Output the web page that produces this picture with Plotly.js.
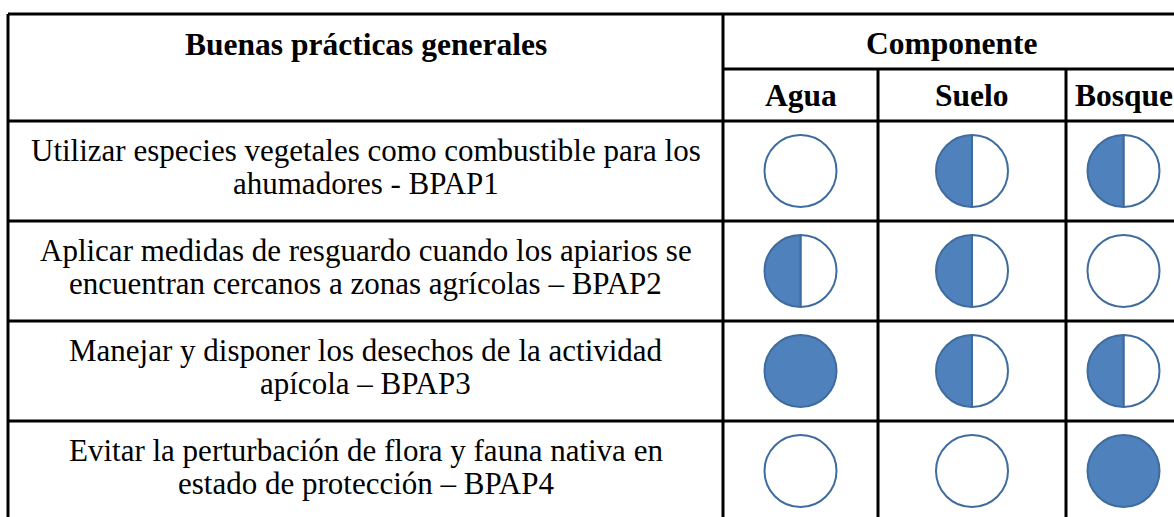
<!DOCTYPE html>
<html>
<head>
<meta charset="utf-8">
<script src="https://cdn.plot.ly/plotly-3.0.1.min.js"></script>
<style>
  html, body { margin: 0; padding: 0; background: #ffffff; }
  #chart { width: 1174px; height: 517px; }
</style>
</head>
<body>
<div id="chart"></div>
<script>
// ---- data ----
const headerLeft = 'Buenas prácticas generales';
const headerGroup = 'Componente';
const components = ['Agua', 'Suelo', 'Bosque'];
const practices = [
  'Utilizar especies vegetales como combustible para los<br>ahumadores - BPAP1',
  'Aplicar medidas de resguardo cuando los apiarios se<br>encuentran cercanos a zonas agrícolas – BPAP2',
  'Manejar y disponer los desechos de la actividad<br>apícola – BPAP3',
  'Evitar la perturbación de flora y fauna nativa en<br>estado de protección – BPAP4'
];
// fraction of each Harvey ball that is filled (0 = empty, 0.5 = half, 1 = full)
const agua   = [0,   0.5, 1,   0];
const suelo  = [0.5, 0.5, 0.5, 0];
const bosque = [0.5, 0,   0.5, 1];

// ---- layout geometry ----
const W = 1174, H = 517;
const colX = [8, 723, 878, 1066, 1181];      // column boundaries
const yTop = 14, yGroup = 69, yHead = 121, rowH = 100;
const R = 36;                                 // ball radius
const FILL = '#4F81BD', EDGE = '#3F6C9E';
const LINE = '#000000', LW = 3;
const FONT = 'Liberation Serif, Times New Roman, serif';
const BODY_SIZE = 31, HEAD_SIZE = 31.5, LINE_GAP = 33;

const series = [agua, suelo, bosque];
const traces = [];
const annotations = [];
const shapes = [];

function line(x0, y0, x1, y1) {
  shapes.push({type: 'line', xref: 'x', yref: 'y', x0, y0, x1, y1,
               line: {color: LINE, width: LW}});
}

const yBottom = yHead + rowH * practices.length;

// outer / grid lines
line(colX[0], yTop, colX[4], yTop);
line(colX[1], yGroup, colX[4], yGroup);
line(colX[0], yHead, colX[4], yHead);
for (let i = 1; i <= practices.length; i++) {
  const y = yHead + rowH * i;
  line(colX[0], y, colX[4], y);
}
line(colX[0], yTop, colX[0], yBottom);
line(colX[1], yTop, colX[1], yBottom);
line(colX[2], yGroup, colX[2], yBottom);
line(colX[3], yGroup, colX[3], yBottom);
line(colX[4], yTop, colX[4], yBottom);

// header texts
annotations.push({x: (colX[0] + colX[1]) / 2, y: (yTop + yHead) / 2 - 23, xref: 'x', yref: 'y',
  text: '<b>' + headerLeft + '</b>', showarrow: false,
  font: {family: FONT, size: HEAD_SIZE, color: '#000'}});
annotations.push({x: (colX[1] + colX[4]) / 2, y: (yTop + yGroup) / 2 + 2, xref: 'x', yref: 'y',
  text: '<b>' + headerGroup + '</b>', showarrow: false,
  font: {family: FONT, size: HEAD_SIZE, color: '#000'}});
components.forEach((c, j) => {
  annotations.push({x: (colX[j + 1] + colX[j + 2]) / 2, y: (yGroup + yHead) / 2, xref: 'x', yref: 'y',
    text: '<b>' + c + '</b>', showarrow: false,
    font: {family: FONT, size: HEAD_SIZE, color: '#000'}});
});

// rows
practices.forEach((p, i) => {
  const cy = yHead + rowH * i + rowH / 2;
  const lines = p.split('<br>');
  lines.forEach((t, k) => {
    annotations.push({x: (colX[0] + colX[1]) / 2,
      y: cy - 4 + (k - (lines.length - 1) / 2) * LINE_GAP, xref: 'x', yref: 'y',
      text: t, showarrow: false, align: 'center',
      font: {family: FONT, size: BODY_SIZE, color: '#000'}});
  });
  series.forEach((vals, j) => {
    const cx = (colX[j + 1] + colX[j + 2]) / 2;
    const v = vals[i];
    const values = [], colors = [];
    // empty part first, filled part second: drawn clockwise from 12 o'clock,
    // so the filled part ends up on the left side
    if (v < 1) { values.push(1 - v); colors.push('#FFFFFF'); }
    if (v > 0) { values.push(v); colors.push(FILL); }
    traces.push({
      type: 'pie', values: values, sort: false, direction: 'clockwise', rotation: 0,
      marker: {colors: colors, line: {color: EDGE, width: 2}},
      textinfo: 'none', hoverinfo: 'skip', showlegend: false,
      domain: {x: [(cx - R) / W, (cx + R) / W], y: [1 - (cy + R) / H, 1 - (cy - R) / H]}
    });
  });
});

// invisible scatter to activate cartesian axes
traces.unshift({type: 'scatter', x: [0, W], y: [0, H], mode: 'markers',
  marker: {opacity: 0}, hoverinfo: 'skip', showlegend: false});

const layout = {
  width: W, height: H,
  margin: {l: 0, r: 0, t: 0, b: 0},
  paper_bgcolor: '#ffffff', plot_bgcolor: '#ffffff',
  xaxis: {range: [0, W], visible: false, fixedrange: true},
  yaxis: {range: [H, 0], visible: false, fixedrange: true},
  shapes: shapes,
  annotations: annotations,
  showlegend: false
};

Plotly.newPlot('chart', traces, layout, {staticPlot: true, displayModeBar: false});
</script>
</body>
</html>
